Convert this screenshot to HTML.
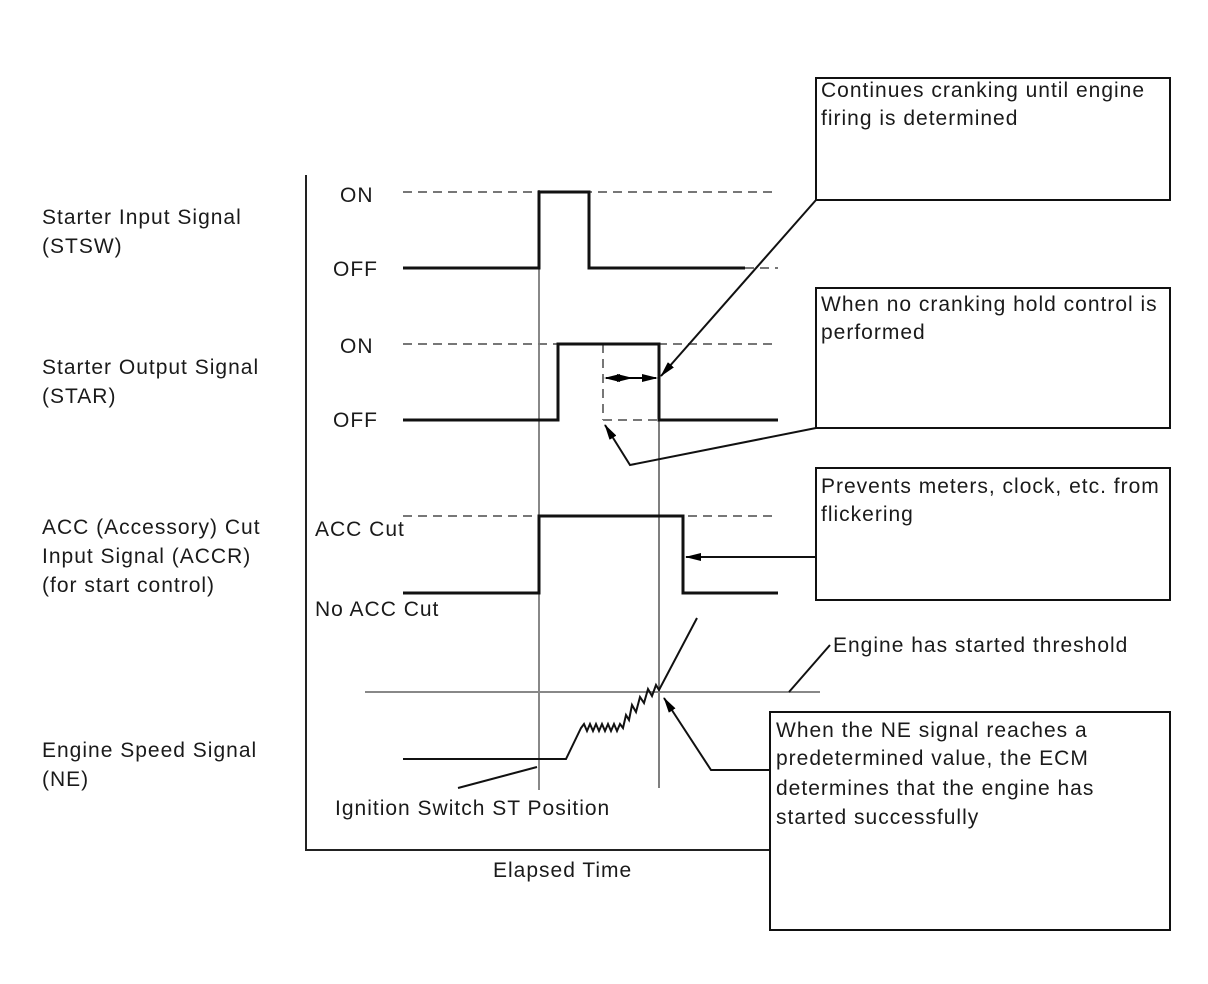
<!DOCTYPE html>
<html><head><style>
html,body{margin:0;padding:0;background:#fff;}
svg{display:block;}
text{font-family:"Liberation Sans",sans-serif;font-size:21px;letter-spacing:1px;fill:#1a1a1a;}
</style></head><body>
<svg width="1208" height="984" viewBox="0 0 1208 984" xmlns="http://www.w3.org/2000/svg">
<defs>
<marker id="ah2" markerWidth="16" markerHeight="8" refX="15" refY="4" orient="auto" markerUnits="userSpaceOnUse" viewBox="0 0 16 8"><path d="M0,0 L16,4 L0,8 z" fill="#000"/></marker>
</defs>
<path d="M306,175 L306,850 L770,850" fill="none" stroke="#222" stroke-width="2"/>
<line x1="539" y1="190" x2="539" y2="790" stroke="#888" stroke-width="2"/>
<line x1="659" y1="344" x2="659" y2="788" stroke="#555" stroke-width="1.5"/>
<g stroke="#777" stroke-width="2" stroke-dasharray="9,6" fill="none">
<line x1="403" y1="192" x2="778" y2="192"/>
<line x1="745" y1="268" x2="778" y2="268"/>
<line x1="403" y1="344" x2="778" y2="344"/>
<line x1="403" y1="516" x2="778" y2="516"/>
<line x1="603" y1="344" x2="603" y2="420"/>
<line x1="603" y1="420" x2="659" y2="420"/>
</g>
<g fill="none" stroke="#111" stroke-width="3">
<path d="M403,268 L539,268 L539,192 L589,192 L589,268 L745,268"/>
<path d="M403,420 L558,420 L558,344 L659,344 L659,420 L778,420"/>
<path d="M403,593 L539,593 L539,516 L683,516 L683,593 L778,593"/>
</g>
<line x1="365" y1="692" x2="820" y2="692" stroke="#888" stroke-width="2"/>
<path d="M403,759 L566,759 L581,728 L584,724 L587,731 L590,724 L593,731 L596,724 L599,731 L602,724 L605,731 L608,724 L611,731 L614,724 L617,731 L620,724 L623,728 L626,715 L629,720 L632,705 L636,712 L640,697 L644,703 L648,689 L652,696 L656,685 L659,690 L697,618" fill="none" stroke="#111" stroke-width="2"/>
<line x1="606" y1="378" x2="656" y2="378" stroke="#000" stroke-width="2"/>
<path d="M604,378 L620,374 L620,382 z" fill="#000"/>
<path d="M633,378 L617,374 L617,382 z" fill="#000"/>
<path d="M658,378 L642,374 L642,382 z" fill="#000"/>
<g fill="none" stroke="#111" stroke-width="2">
<line x1="816" y1="200" x2="661" y2="376" marker-end="url(#ah2)"/>
<polyline points="816,428 630,465 605,425" marker-end="url(#ah2)"/>
<line x1="816" y1="557" x2="686" y2="557" marker-end="url(#ah2)"/>
<polyline points="770,770 711,770 664,698" marker-end="url(#ah2)"/>
<line x1="789" y1="692" x2="830" y2="645"/>
<line x1="458" y1="788" x2="537" y2="767"/>
</g>
<g fill="#fff" stroke="#111" stroke-width="2">
<rect x="816" y="78" width="354" height="122"/>
<rect x="816" y="288" width="354" height="140"/>
<rect x="816" y="468" width="354" height="132"/>
<rect x="770" y="712" width="400" height="218"/>
</g>
<text x="42" y="224">Starter Input Signal</text>
<text x="42" y="253">(STSW)</text>
<text x="42" y="374">Starter Output Signal</text>
<text x="42" y="403">(STAR)</text>
<text x="42" y="534">ACC (Accessory) Cut</text>
<text x="42" y="563">Input Signal (ACCR)</text>
<text x="42" y="592">(for start control)</text>
<text x="42" y="757">Engine Speed Signal</text>
<text x="42" y="786">(NE)</text>
<text x="340" y="202">ON</text>
<text x="333" y="276">OFF</text>
<text x="340" y="353">ON</text>
<text x="333" y="427">OFF</text>
<text x="315" y="536">ACC Cut</text>
<text x="315" y="616">No ACC Cut</text>
<text x="335" y="815">Ignition Switch ST Position</text>
<text x="493" y="877">Elapsed Time</text>
<text x="833" y="652">Engine has started threshold</text>
<text x="821" y="97">Continues cranking until engine</text>
<text x="821" y="125">firing is determined</text>
<text x="821" y="311">When no cranking hold control is</text>
<text x="821" y="339">performed</text>
<text x="821" y="493">Prevents meters, clock, etc. from</text>
<text x="821" y="521">flickering</text>
<text x="776" y="737">When the NE signal reaches a</text>
<text x="776" y="765">predetermined value, the ECM</text>
<text x="776" y="795">determines that the engine has</text>
<text x="776" y="824">started successfully</text>
</svg>
</body></html>
